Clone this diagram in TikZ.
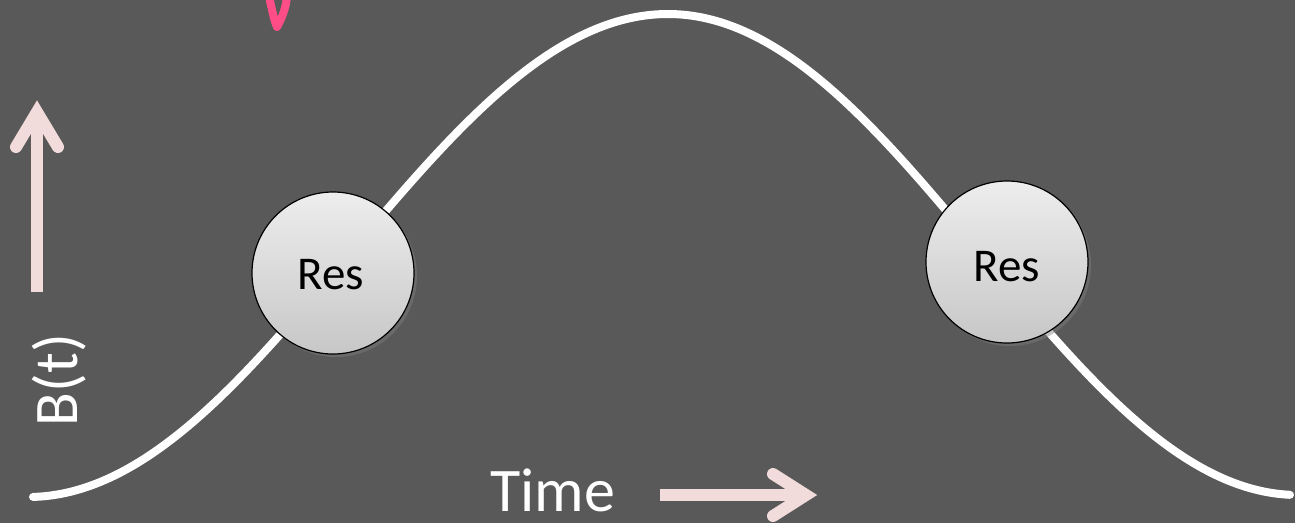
\documentclass[tikz,border=0pt]{standalone}
\usepackage{fontspec}
\setmainfont{Carlito}
\usetikzlibrary{shadows}
\definecolor{bg}{HTML}{595959}
\definecolor{pinkarrow}{HTML}{F2DCDB}
\definecolor{hotpink}{HTML}{FF4D88}
\tikzset{
  curveline/.style={draw=white, line width=8pt, line cap=round},
  resball/.style={circle, minimum size=162pt, inner sep=0pt, draw=black, line width=1.2pt,
    top color=white!93!black, bottom color=white!78!black,
    drop shadow={opacity=0.45, shadow xshift=3pt, shadow yshift=-3pt}},
  restext/.style={font=\fontsize{47}{47}\selectfont, text=black, anchor=base, inner sep=0pt},
  arrowshaft/.style={draw=pinkarrow, line width=12pt},
  arrowhead/.style={draw=pinkarrow, line width=12pt, line cap=round, line join=miter},
  label/.style={text=white, inner sep=0pt, font=\fontsize{62}{62}\selectfont},
}
\begin{document}
\begin{tikzpicture}[x=1pt, y=-1pt]
\useasboundingbox[fill=bg] (0,0) rectangle (1295,523);
% bell curve
\draw[curveline] plot[domain=33:668, samples=120, smooth]
  (\x, {497-483*(1+cos((\x-668)/640*180))/2})
  -- plot[domain=668:1290, samples=120, smooth]
  (\x, {495-481*(1+cos((\x-668)/630*180))/2});
% resonance balls
\node[resball] (r1) at (333,273) {};
\node[restext] (r1t) at (331,289) {Res};
\node[resball] (r2) at (1007,262) {};
\node[restext] (r2t) at (1007,281) {Res};
% B(t) axis arrow
\coordinate (ua) at (37,292);
\coordinate (ub) at (37,112);
\draw[arrowshaft] (ua) -- (ub);
\draw[arrowhead] (16,147) -- (ub) -- (58,147);
\node[label, rotate=90, anchor=base] (bt) at (77,380) {B(t)};
% Time arrow
\node[label, anchor=base] (time) at (553,511) {Time};
\coordinate (ta) at (660,495);
\coordinate (tb) at (806,495);
\draw[arrowshaft] (ta) -- (tb);
\draw[arrowhead] (773,474) -- (tb) -- (773,516);
% pink mark at top
\draw[hotpink, line width=8pt, line cap=round, line join=round]
  (269,-4) .. controls (272,10) and (274,20) .. (277,27)
  .. controls (282,18) and (286,8) .. (287,-4);
\end{tikzpicture}
\end{document}
